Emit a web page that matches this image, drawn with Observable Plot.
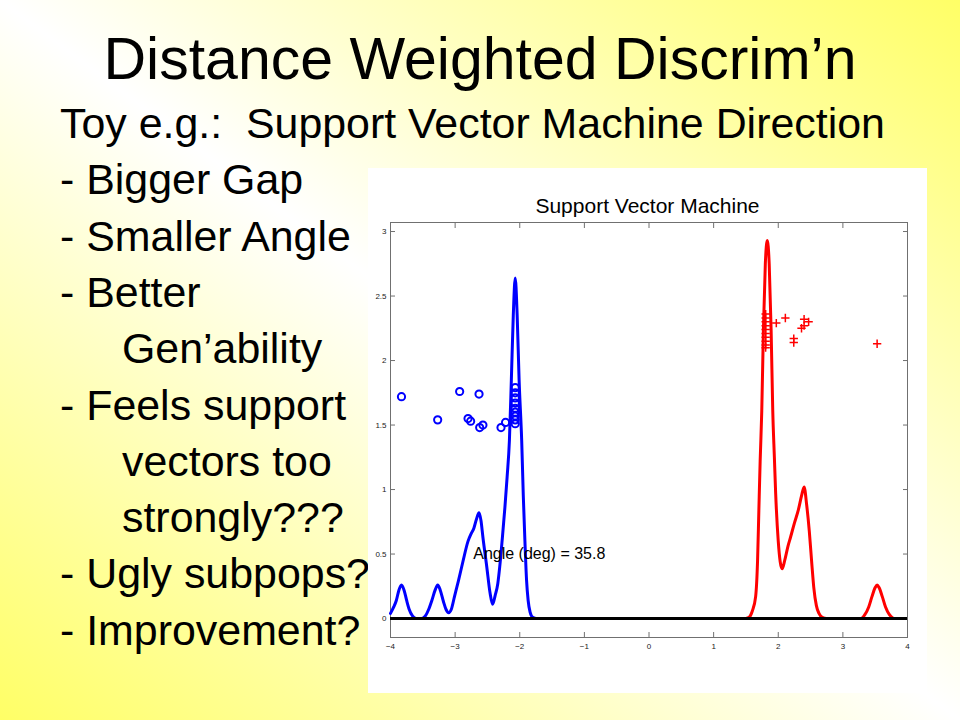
<!DOCTYPE html>
<html>
<head>
<meta charset="utf-8">
<script src="https://cdn.jsdelivr.net/npm/d3@7"></script>
<script src="https://cdn.jsdelivr.net/npm/@observablehq/plot@0.6"></script>
<style>
  html, body { margin: 0; padding: 0; }
  #slide {
    position: relative; width: 960px; height: 720px; overflow: hidden;
    font-family: "Liberation Sans", Arial, sans-serif; color: #000;
    background: linear-gradient(to top right, #ffff66 0%, #ffffff 50%, #ffff66 100%);
  }
  .t { position: absolute; white-space: pre; line-height: 1; margin: 0; }
  #title { left: 0; width: 960px; text-align: center; font-size: 59px; top: 30px; }
  .b { font-size: 42.9px; left: 60px; }
  .ind { left: 122px; }
  #panel { position: absolute; left: 368px; top: 168px; width: 559px; height: 525px; background: #fff; }
  #ctitle { position: absolute; left: 0; width: 559px; text-align: center; font-size: 21px; line-height: 1; top: 26.7px; }
  #chart { position: absolute; left: 0; top: 0; }
</style>
</head>
<body>
<div id="slide">
  <div class="t" id="title">Distance Weighted Discrim’n</div>
  <div class="t b" style="top:102px">Toy e.g.:  Support Vector Machine Direction</div>
  <div class="t b" style="top:158.3px">- Bigger Gap</div>
  <div class="t b" style="top:214.6px">- Smaller Angle</div>
  <div class="t b" style="top:270.9px">- Better</div>
  <div class="t b ind" style="top:327.2px">Gen’ability</div>
  <div class="t b" style="top:383.5px">- Feels support</div>
  <div class="t b ind" style="top:439.8px">vectors too</div>
  <div class="t b ind" style="top:496.1px">strongly???</div>
  <div class="t b" style="top:552.4px">- Ugly subpops?</div>
  <div class="t b" style="top:608.7px">- Improvement?</div>
  <div id="panel">
    <div id="ctitle">Support Vector Machine</div>
    <div id="chart"></div>
  </div>
</div>
<script>
// Blue class: smoothed density of projections
const blueX = [-4.00, -3.95, -3.91, -3.87, -3.83, -3.79, -3.75, -3.71, -3.66, -3.60, -3.52,
  -3.46, -3.41, -3.36, -3.31, -3.27, -3.23, -3.18, -3.14, -3.10,
  -3.06, -3.01, -2.95, -2.88, -2.80, -2.75, -2.71, -2.67, -2.63, -2.60, -2.57, -2.51, -2.46, -2.42,
  -2.38, -2.34, -2.31, -2.27, -2.23, -2.195, -2.16, -2.13, -2.10, -2.07, -2.04, -2.01, -1.97,
  -1.945, -1.92, -1.895, -1.87, -1.84, -1.80, -1.74, -1.70];
const blueY = [0.04, 0.09, 0.14, 0.22, 0.26, 0.22, 0.14, 0.07, 0.02, 0.0, 0.0,
  0.02, 0.07, 0.14, 0.22, 0.26, 0.22, 0.13, 0.07, 0.045,
  0.07, 0.17, 0.29, 0.44, 0.60, 0.66, 0.70, 0.77, 0.82, 0.76, 0.63, 0.40, 0.20, 0.11,
  0.18, 0.27, 0.40, 0.62, 0.86, 1.10, 1.38, 1.85, 2.35, 2.64, 2.35, 1.85, 1.38,
  0.95, 0.60, 0.30, 0.14, 0.05, 0.01, 0.0, 0.0];

// Red class: smoothed density of projections
const redX = [1.50, 1.55, 1.60, 1.65, 1.68, 1.70, 1.72, 1.745, 1.77, 1.80, 1.83, 1.86, 1.89, 1.915,
  1.94, 1.96, 2.00, 2.03, 2.06, 2.10, 2.15, 2.19, 2.25, 2.31, 2.36, 2.40, 2.44, 2.48, 2.52, 2.55,
  2.59, 2.63, 2.68, 2.75, 3.28, 3.34, 3.40, 3.45, 3.50, 3.53, 3.56, 3.61, 3.66, 3.72, 3.78];
const redY = [0.0, 0.01, 0.06, 0.17, 0.45, 0.84, 1.22, 1.61, 2.23, 2.75, 2.93, 2.75, 2.23, 1.61,
  1.25, 0.97, 0.60, 0.44, 0.385, 0.45, 0.56, 0.63, 0.74, 0.84, 0.95, 1.02, 0.88, 0.68, 0.42, 0.24,
  0.10, 0.04, 0.01, 0.0, 0.0, 0.03, 0.09, 0.17, 0.24, 0.26, 0.24, 0.17, 0.09, 0.03, 0.0];

// Data points (circles = blue class, pluses = red class)
const circX = [-3.83, -3.27, -2.93, -2.63, -2.80, -2.76, -2.62, -2.57, -2.29, -2.22,
  -2.07, -2.07, -2.07, -2.07, -2.07, -2.07, -2.07, -2.07, -2.07];
const circY = [1.72, 1.54, 1.76, 1.74, 1.55, 1.53, 1.48, 1.50, 1.48, 1.52,
  1.79, 1.75, 1.71, 1.67, 1.63, 1.60, 1.57, 1.54, 1.51];
const plusX = [1.805, 1.805, 1.805, 1.805, 1.805, 1.805, 1.805, 1.805, 1.805, 1.805,
  1.97, 2.11, 2.24, 2.24, 2.40, 2.47, 2.36, 2.40, 3.53];
const plusY = [2.36, 2.33, 2.30, 2.27, 2.24, 2.21, 2.18, 2.15, 2.12, 2.10,
  2.29, 2.33, 2.17, 2.14, 2.32, 2.30, 2.25, 2.27, 2.13];

const xTicks = [-4, -3, -2, -1, 0, 1, 2, 3, 4];
const xTickLabels = ["\u22124", "\u22123", "\u22122", "\u22121", "0", "1", "2", "3", "4"];
const yTicks = [0, 0.5, 1, 1.5, 2, 2.5, 3];
const yTickLabels = ["0", "0.5", "1", "1.5", "2", "2.5", "3"];
const angleText = "Angle (deg) = 35.8";
const angleX = -2.72, angleY = 0.5;

const blue = blueX.map((x, i) => ({x, y: blueY[i]}));
const red = redX.map((x, i) => ({x, y: redY[i]}));
const circ = circX.map((x, i) => ({x, y: circY[i]}));
const plus = plusX.map((x, i) => ({x, y: plusY[i]}));

const axisGray = "#707070";
const chart = Plot.plot({
  width: 559, height: 525,
  marginLeft: 22, marginRight: 20, marginTop: 54, marginBottom: 56,
  x: {domain: [-4, 4]},
  y: {domain: [-0.147, 3.07]},
  style: {fontFamily: "Liberation Sans, Arial, sans-serif", background: "transparent"},
  marks: [
    Plot.axisX(xTicks, {anchor: "bottom", tickSize: -5, tickPadding: 11, fontSize: 8, stroke: axisGray, fill: "#222", label: null,
      tickFormat: d => xTickLabels[xTicks.indexOf(d)]}),
    Plot.axisX(xTicks, {anchor: "top", tickSize: -5, stroke: axisGray, label: null, tickFormat: () => ""}),
    Plot.axisY(yTicks, {anchor: "left", tickSize: -5, tickPadding: 9, fontSize: 8, stroke: axisGray, fill: "#222", label: null,
      tickFormat: d => yTickLabels[yTicks.indexOf(d)]}),
    Plot.axisY(yTicks, {anchor: "right", tickSize: -5, stroke: axisGray, label: null, tickFormat: () => ""}),
    Plot.frame({stroke: axisGray}),
    Plot.line(blue, {x: "x", y: "y", stroke: "#0000ff", strokeWidth: 3, curve: "monotone-x"}),
    Plot.line(red, {x: "x", y: "y", stroke: "#ff0000", strokeWidth: 3, curve: "monotone-x"}),
    Plot.dot(circ, {x: "x", y: "y", r: 3.6, stroke: "#0000ff", strokeWidth: 2, fill: "none"}),
    Plot.dot(plus, {x: "x", y: "y", symbol: "plus", r: 2.8, stroke: "#ff0000", strokeWidth: 1.5}),
    Plot.ruleY([0], {stroke: "#000", strokeWidth: 3}),
    Plot.text([{x: angleX, y: angleY, t: angleText}], {x: "x", y: "y", text: "t", textAnchor: "start", fontSize: 16, fill: "#000"})
  ]
});
document.getElementById("chart").appendChild(chart);
</script>
</body>
</html>
